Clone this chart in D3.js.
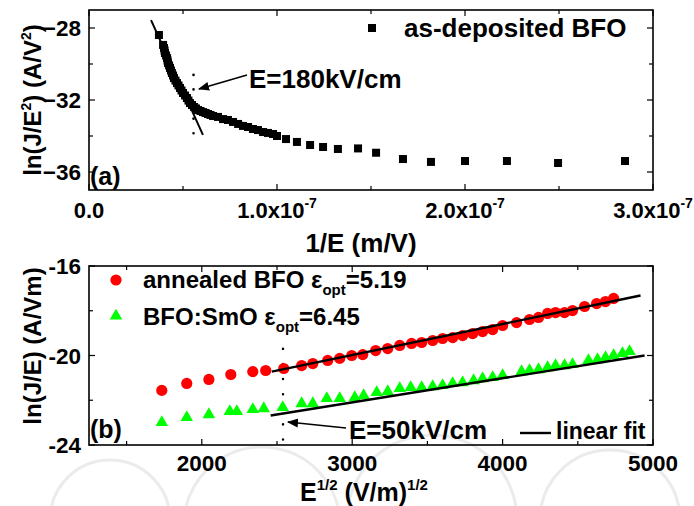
<!DOCTYPE html>
<html>
<head>
<meta charset="utf-8">
<script src="https://cdn.jsdelivr.net/npm/d3@7"></script>
<style>
body { margin: 0; background: #fff; }
text { font-family: "Liberation Sans", Arial, sans-serif; font-weight: bold; fill: #000; }
</style>
</head>
<body>
<svg id="chart" width="694" height="506"></svg>
<script>
// ---- panel (a): as-deposited BFO, x in units of 1e-7 m/V
var invE = [0.372, 0.394, 0.399, 0.402, 0.404, 0.410, 0.415, 0.418, 0.420, 0.426, 0.431, 0.436, 0.441,
  0.447, 0.452, 0.460, 0.468, 0.476, 0.484, 0.492, 0.500, 0.511, 0.521, 0.529, 0.537, 0.548, 0.559,
  0.569, 0.580, 0.593, 0.606, 0.620, 0.633, 0.646, 0.660, 0.686, 0.713, 0.739, 0.766, 0.793, 0.819,
  0.846, 0.872, 0.899, 0.926, 0.952, 0.979, 1.000, 1.048, 1.106, 1.176, 1.245, 1.324, 1.431,
  1.527, 1.670, 1.819, 2.000, 2.223, 2.495, 2.851];
var lnJE2 = [-28.39, -28.94, -29.11, -29.25, -29.39, -29.53, -29.67, -29.81, -29.94, -30.08, -30.22, -30.36, -30.50,
  -30.64, -30.78, -30.92, -31.06, -31.19, -31.33, -31.47, -31.61, -31.75, -31.89, -32.03, -32.17, -32.28, -32.39,
  -32.47, -32.56, -32.61, -32.67, -32.72, -32.78, -32.83, -32.89, -32.94, -33.06, -33.11, -33.22, -33.33, -33.44,
  -33.50, -33.61, -33.67, -33.78, -33.83, -33.89, -34.00, -34.17, -34.33, -34.50, -34.61, -34.72, -34.69,
  -34.93, -35.28, -35.44, -35.39, -35.39, -35.50, -35.39];
var fitAx = [0.330, 0.606];
var fitAy = [-27.56, -33.94];
var markA = 0.556;           // 1/(180 kV/cm)
var markAy = [-30.6, -33.9];
var xTicksA = [0, 1, 2, 3];
var yTicksA = [-28, -32, -36];

// ---- panel (b)
var sqrtEred = [1734, 1900, 2047, 2193, 2339, 2425, 2545, 2664, 2738, 2837, 2917, 2997, 3070, 3156,
  3236, 3316, 3395, 3462, 3535, 3601, 3668, 3734, 3801, 3867, 3934, 4000, 4093, 4179, 4239, 4299,
  4352, 4412, 4465, 4545, 4625, 4684, 4738];
var lnJEred = [-21.56, -21.25, -21.07, -20.85, -20.72, -20.67, -20.58, -20.45, -20.36, -20.22, -20.13, -20.00,
  -19.96, -19.78, -19.69, -19.55, -19.46, -19.42, -19.33, -19.24, -19.20, -19.11, -19.02, -18.93, -18.84,
  -18.66, -18.53, -18.39, -18.30, -18.12, -18.08, -18.08, -17.99, -17.81, -17.68, -17.59, -17.45];
var sqrtEgreen = [1734, 1900, 2047, 2186, 2233, 2339, 2412, 2538, 2664, 2738, 2831, 2917, 3017, 3076,
  3163, 3236, 3316, 3389, 3462, 3535, 3601, 3668, 3734, 3807, 3867, 3934, 4000, 4126, 4179, 4239,
  4299, 4352, 4412, 4465, 4571, 4631, 4684, 4738, 4797, 4844];
var lnJEgreen = [-22.99, -22.77, -22.64, -22.50, -22.50, -22.41, -22.37, -22.32, -22.15, -22.15, -21.92, -21.92,
  -21.88, -21.79, -21.65, -21.61, -21.47, -21.43, -21.43, -21.39, -21.34, -21.25, -21.21, -21.12, -21.03,
  -20.98, -20.89, -20.72, -20.67, -20.63, -20.54, -20.45, -20.45, -20.40, -20.22, -20.18, -20.09, -20.00,
  -19.91, -19.82];
var fitRedX = [2465, 4917], fitRedY = [-20.72, -17.32];
var fitGreenX = [2458, 4944], fitGreenY = [-22.68, -20.00];
var markB = 2540;
var markBy = [-19.7, -23.8];
var xTicksB = [2000, 3000, 4000, 5000];
var yTicksB = [-16, -20, -24];

var svg = d3.select("#chart");
var left = 89, right = 653;

// faint watermark outlines
var wm = svg.append("g").attr("fill", "none").attr("stroke", "#ebebeb").attr("stroke-width", 3);
wm.append("circle").attr("cx", 262).attr("cy", 525).attr("r", 78);
wm.append("circle").attr("cx", 432).attr("cy", 520).attr("r", 85);
wm.append("circle").attr("cx", 610).attr("cy", 520).attr("r", 70);
wm.append("circle").attr("cx", 110).attr("cy", 520).attr("r", 60);

var defs = svg.append("defs");
defs.append("marker").attr("id", "arr").attr("viewBox", "0 0 10 10")
  .attr("refX", 9).attr("refY", 5).attr("markerWidth", 7).attr("markerHeight", 7)
  .attr("orient", "auto").attr("markerUnits", "strokeWidth")
  .append("path").attr("d", "M0,1 L10,5 L0,9 Z").attr("fill", "#000");

function frame(g, x, y, xMajor, xMinor, yMajor, yMinor) {
  var x0 = x.range()[0], x1 = x.range()[1], y0 = y.range()[1], y1 = y.range()[0];
  var t = g.append("g").attr("stroke", "#000").attr("stroke-width", 1.2);
  xMajor.forEach(function(v) {
    t.append("line").attr("x1", x(v)).attr("x2", x(v)).attr("y1", y1).attr("y2", y1 - 6);
    t.append("line").attr("x1", x(v)).attr("x2", x(v)).attr("y1", y0).attr("y2", y0 + 6);
  });
  xMinor.forEach(function(v) {
    t.append("line").attr("x1", x(v)).attr("x2", x(v)).attr("y1", y1).attr("y2", y1 - 4);
    t.append("line").attr("x1", x(v)).attr("x2", x(v)).attr("y1", y0).attr("y2", y0 + 4);
  });
  yMajor.forEach(function(v) {
    t.append("line").attr("y1", y(v)).attr("y2", y(v)).attr("x1", x0).attr("x2", x0 + 6);
    t.append("line").attr("y1", y(v)).attr("y2", y(v)).attr("x1", x1).attr("x2", x1 - 6);
  });
  yMinor.forEach(function(v) {
    t.append("line").attr("y1", y(v)).attr("y2", y(v)).attr("x1", x0).attr("x2", x0 + 4);
    t.append("line").attr("y1", y(v)).attr("y2", y(v)).attr("x1", x1).attr("x2", x1 - 4);
  });
  g.append("rect").attr("x", x0).attr("y", y0).attr("width", x1 - x0).attr("height", y1 - y0)
    .attr("fill", "none").attr("stroke", "#000").attr("stroke-width", 1.6);
}

// ================= panel (a)
var xA = d3.scaleLinear().domain([0, 3]).range([left, right]);
var yA = d3.scaleLinear().domain([-37, -27]).range([190, 10]);
var gA = svg.append("g");

frame(gA, xA, yA, xTicksA, [0.5, 1.5, 2.5], yTicksA, [-30, -34]);

gA.selectAll(".sq").data(invE).enter().append("rect")
  .attr("x", function(d) { return xA(d) - 4; })
  .attr("y", function(d, i) { return yA(lnJE2[i]) - 4; })
  .attr("width", 8).attr("height", 8).attr("fill", "#000");

gA.append("line").attr("x1", xA(fitAx[0])).attr("y1", yA(fitAy[0]))
  .attr("x2", xA(fitAx[1])).attr("y2", yA(fitAy[1]))
  .attr("stroke", "#000").attr("stroke-width", 2);

gA.append("line").attr("x1", xA(markA)).attr("x2", xA(markA))
  .attr("y1", yA(markAy[0])).attr("y2", yA(markAy[1]))
  .attr("stroke", "#000").attr("stroke-width", 2.6).attr("stroke-linecap", "round")
  .attr("stroke-dasharray", "0.1,14.5");

gA.append("line").attr("x1", 247).attr("y1", 75).attr("x2", 199).attr("y2", 89)
  .attr("stroke", "#000").attr("stroke-width", 1.6).attr("marker-end", "url(#arr)");
gA.append("text").attr("x", 249).attr("y", 88).attr("font-size", 26).text("E=180kV/cm");

gA.append("rect").attr("x", 368).attr("y", 24).attr("width", 8).attr("height", 8).attr("fill", "#000");
gA.append("text").attr("x", 404).attr("y", 37).attr("font-size", 26).text("as-deposited BFO");
gA.append("text").attr("x", 90).attr("y", 185).attr("font-size", 25).text("(a)");

yTicksA.forEach(function(v) {
  gA.append("text").attr("x", 81).attr("y", yA(v) + 8).attr("text-anchor", "end")
    .attr("font-size", 22.5).text(d3.format(".0f")(v));
});
xTicksA.forEach(function(v) {
  var t = gA.append("text").attr("x", xA(v)).attr("y", 218).attr("text-anchor", "middle").attr("font-size", 22);
  if (v === 0) { t.text("0.0"); return; }
  t.append("tspan").text(v.toFixed(1) + "x10");
  t.append("tspan").attr("font-size", 14).attr("dy", -10).text("-7");
});
gA.append("text").attr("x", 361).attr("y", 252).attr("text-anchor", "middle").attr("font-size", 26).text("1/E (m/V)");

var tA = gA.append("text").attr("transform", "translate(41,100) rotate(-90)")
  .attr("text-anchor", "middle").attr("font-size", 24);
tA.append("tspan").text("ln(J/E");
tA.append("tspan").attr("font-size", 14).attr("dy", -10).text("2");
tA.append("tspan").attr("dy", 10).text(") (A/V");
tA.append("tspan").attr("font-size", 14).attr("dy", -10).text("2");
tA.append("tspan").attr("dy", 10).text(")");

// ================= panel (b)
var xB = d3.scaleLinear().domain([1250, 5000]).range([left, right]);
var yB = d3.scaleLinear().domain([-24, -16]).range([445, 266]);
var gB = svg.append("g");

frame(gB, xB, yB, xTicksB, [1500, 2500, 3500, 4500], yTicksB, [-18, -22]);

gB.append("line").attr("x1", xB(markB)).attr("x2", xB(markB))
  .attr("y1", yB(markBy[0])).attr("y2", yB(markBy[1]))
  .attr("stroke", "#000").attr("stroke-width", 2.4).attr("stroke-linecap", "round")
  .attr("stroke-dasharray", "0.1,15");

gB.selectAll(".ci").data(sqrtEred).enter().append("circle")
  .attr("cx", function(d) { return xB(d); })
  .attr("cy", function(d, i) { return yB(lnJEred[i]); })
  .attr("r", 5.6).attr("fill", "#ff0000");

var tri = d3.symbol().type(d3.symbolTriangle).size(68);
gB.selectAll(".tr").data(sqrtEgreen).enter().append("path")
  .attr("d", tri)
  .attr("transform", function(d, i) { return "translate(" + xB(d) + "," + yB(lnJEgreen[i]) + ")"; })
  .attr("fill", "#00ff00");

[[fitRedX, fitRedY], [fitGreenX, fitGreenY]].forEach(function(f) {
  gB.append("line").attr("x1", xB(f[0][0])).attr("y1", yB(f[1][0]))
    .attr("x2", xB(f[0][1])).attr("y2", yB(f[1][1]))
    .attr("stroke", "#000").attr("stroke-width", 2.4);
});

gB.append("line").attr("x1", 346).attr("y1", 428).attr("x2", 288).attr("y2", 422)
  .attr("stroke", "#000").attr("stroke-width", 1.6).attr("marker-end", "url(#arr)");
gB.append("text").attr("x", 349).attr("y", 439).attr("font-size", 26).text("E=50kV/cm");
gB.append("line").attr("x1", 520).attr("x2", 551).attr("y1", 433).attr("y2", 433)
  .attr("stroke", "#000").attr("stroke-width", 2.4);
gB.append("text").attr("x", 556).attr("y", 439).attr("font-size", 23).text("linear fit");

gB.append("circle").attr("cx", 116).attr("cy", 280).attr("r", 5.6).attr("fill", "#ff0000");
gB.append("path").attr("d", tri).attr("transform", "translate(116,316)").attr("fill", "#00ff00");
function legendText(y, name, val) {
  var t = gB.append("text").attr("x", 143).attr("y", y).attr("font-size", 24);
  t.append("tspan").text(name + " \u03b5");
  t.append("tspan").attr("font-size", 15).attr("dy", 7).text("opt");
  t.append("tspan").attr("dy", -7).text("=" + val);
}
legendText(288, "annealed BFO", "5.19");
legendText(325, "BFO:SmO", "6.45");
gB.append("text").attr("x", 90).attr("y", 438).attr("font-size", 25).text("(b)");

yTicksB.forEach(function(v) {
  gB.append("text").attr("x", 81).attr("y", yB(v) + 8).attr("text-anchor", "end")
    .attr("font-size", 22.5).text(v);
});
xTicksB.forEach(function(v) {
  gB.append("text").attr("x", xB(v)).attr("y", 471).attr("text-anchor", "middle")
    .attr("font-size", 22.5).text(v);
});
var tX = gB.append("text").attr("x", 364).attr("y", 501).attr("text-anchor", "middle").attr("font-size", 25);
tX.append("tspan").text("E");
tX.append("tspan").attr("font-size", 15).attr("dy", -11).text("1/2");
tX.append("tspan").attr("dy", 11).text(" (V/m)");
tX.append("tspan").attr("font-size", 15).attr("dy", -11).text("1/2");

gB.append("text").attr("transform", "translate(41,346) rotate(-90)")
  .attr("text-anchor", "middle").attr("font-size", 24).text("ln(J/E) (A/Vm)");
</script>
</body>
</html>
